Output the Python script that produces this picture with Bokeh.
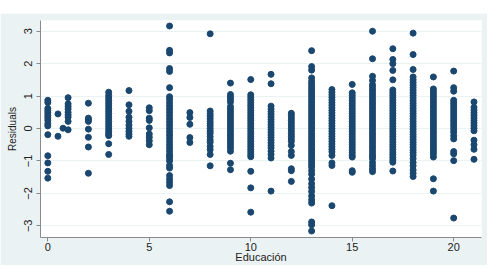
import numpy as np
from bokeh.plotting import figure
from bokeh.models import Range1d, FixedTicker, Spacer
from bokeh.layouts import column
from bokeh.embed import file_html
from bokeh.resources import INLINE

# Years of schooling at which residuals are observed
educ_levels = [0, 0.5, 0.75, 1, 2, 3, 4, 5, 6, 7, 8, 9, 10, 11, 12, 13, 14,
               15, 16, 17, 18, 19, 20, 21]

# Regression residuals for each schooling level
res_0 = [0.87, 0.8, 0.62, 0.55, 0.48, 0.4, 0.33, 0.25, 0.15, 0.08, -0.19,
         -0.84, -1.06, -1.32, -1.53]
res_05 = [0.45, -0.24]
res_075 = [0.01]
res_1 = [0.95, 0.76, 0.68, 0.6, 0.5, 0.42, 0.35, 0.22, -0.04]
res_2 = [0.78, 0.32, 0.27, 0.22, -0.02, -0.27, -0.57, -1.38]
res_3 = [1.12, 1.02, 0.94, 0.86, 0.78, 0.7, 0.62, 0.54, 0.46, 0.38, 0.3,
         0.22, 0.14, 0.06, -0.02, -0.1, -0.17, -0.22, -0.47, -0.8]
res_4 = [1.17, 0.73, 0.53, 0.35, 0.22, 0.1, 0.0, -0.09, -0.17, -0.24]
res_5 = [0.64, 0.55, 0.32, 0.25, 0.02, -0.17, -0.27, -0.38, -0.5]
res_6 = [3.16, 2.41, 2.33, 1.85, 1.76, 1.26, 0.98, 0.9, 0.8, 0.7, 0.6, 0.5,
         0.4, 0.3, 0.2, 0.1, 0.0, -0.1, -0.2, -0.3, -0.4, -0.5, -0.6, -0.7,
         -0.8, -0.85, -0.92, -1.0, -1.14, -1.22, -1.45, -1.56, -1.66, -1.76,
         -2.26, -2.55]
res_7 = [0.49, 0.34, 0.13, -0.28, -0.43]
res_8 = [2.92, 0.54, 0.45, 0.38, 0.3, 0.22, 0.15, 0.08, 0.0, -0.08, -0.15,
         -0.25, -0.35, -0.42, -0.55, -0.65, -0.8, -1.15]
res_9 = [1.4, 1.05, 0.97, 0.9, 0.82, 0.68, 0.6, 0.52, 0.44, 0.36, 0.28, 0.2,
         0.12, 0.04, -0.04, -0.12, -0.2, -0.28, -0.36, -0.44, -0.52, -0.6,
         -0.7, -1.07, -1.27]
res_10 = [1.51, 1.04, 0.96, 0.88, 0.8, 0.72, 0.64, 0.56, 0.48, 0.4, 0.32,
          0.24, 0.16, 0.08, 0.0, -0.08, -0.16, -0.24, -0.32, -0.4, -0.48,
          -0.56, -0.64, -0.72, -0.8, -0.87, -1.32, -1.83, -2.58]
res_11 = [1.67, 1.38, 0.69, 0.6, 0.52, 0.44, 0.36, 0.28, 0.2, 0.12, 0.04,
          -0.04, -0.12, -0.2, -0.28, -0.36, -0.44, -0.52, -0.6, -0.7, -0.8,
          -0.91, -1.93]
res_12 = [0.47, 0.4, 0.32, 0.24, 0.16, 0.08, 0.0, -0.08, -0.16, -0.24,
          -0.32, -0.4, -0.52, -0.71, -0.83, -1.24, -1.3, -1.63]
res_13 = [2.4, 1.91, 1.8, 1.56, 1.45, 1.37, 1.29, 1.21, 1.13, 1.05, 0.97,
          0.89, 0.81, 0.73, 0.65, 0.57, 0.49, 0.41, 0.33, 0.25, 0.17, 0.09,
          0.01, -0.07, -0.15, -0.23, -0.31, -0.39, -0.47, -0.55, -0.63,
          -0.71, -0.79, -0.87, -0.95, -1.03, -1.11, -1.19, -1.3, -1.41,
          -1.56, -1.7, -1.82, -1.94, -2.08, -2.2, -2.3, -2.88, -2.97, -3.16]
res_14 = [1.2, 1.12, 1.04, 0.96, 0.88, 0.8, 0.72, 0.64, 0.56, 0.48, 0.4,
          0.32, 0.24, 0.16, 0.08, 0.0, -0.08, -0.16, -0.24, -0.32, -0.4,
          -0.48, -0.56, -0.64, -0.72, -0.83, -1.06, -1.14, -2.38]
res_15 = [1.36, 1.1, 1.02, 0.94, 0.86, 0.78, 0.7, 0.62, 0.54, 0.46, 0.38,
          0.3, 0.22, 0.14, 0.06, -0.02, -0.1, -0.18, -0.26, -0.34, -0.42,
          -0.5, -0.58, -0.66, -0.74, -0.82, -0.88, -1.3, -1.35]
res_16 = [3.0, 2.15, 1.61, 1.48, 1.35, 1.27, 1.19, 1.11, 1.03, 0.95, 0.87,
          0.79, 0.71, 0.63, 0.55, 0.47, 0.39, 0.31, 0.23, 0.15, 0.07, -0.01,
          -0.09, -0.17, -0.25, -0.33, -0.41, -0.49, -0.57, -0.65, -0.73,
          -0.81, -0.87, -0.93, -1.05, -1.15, -1.25, -1.33]
res_17 = [2.46, 2.13, 2.0, 1.79, 1.5, 1.19, 1.11, 1.03, 0.95, 0.87, 0.79,
          0.71, 0.63, 0.55, 0.47, 0.39, 0.31, 0.23, 0.15, 0.07, -0.01,
          -0.09, -0.17, -0.25, -0.33, -0.41, -0.49, -0.57, -0.65, -0.73,
          -0.81, -0.89, -0.97, -1.04, -1.31]
res_18 = [2.94, 2.28, 1.82, 1.59, 1.5, 1.42, 1.34, 1.26, 1.18, 1.1, 1.02,
          0.94, 0.86, 0.78, 0.7, 0.62, 0.54, 0.46, 0.38, 0.3, 0.22, 0.14,
          0.06, -0.02, -0.1, -0.18, -0.26, -0.34, -0.42, -0.5, -0.58, -0.66,
          -0.74, -0.82, -0.93, -1.05, -1.15, -1.28, -1.38, -1.48]
res_19 = [1.59, 1.22, 1.14, 1.06, 0.98, 0.9, 0.82, 0.74, 0.66, 0.58, 0.5,
          0.42, 0.34, 0.26, 0.18, 0.1, 0.02, -0.06, -0.14, -0.22, -0.3,
          -0.38, -0.46, -0.54, -0.62, -0.7, -0.78, -0.88, -1.55, -1.93]
res_20 = [1.77, 1.26, 1.15, 0.87, 0.79, 0.71, 0.63, 0.55, 0.47, 0.39, 0.31,
          0.23, 0.15, 0.07, -0.02, -0.11, -0.22, -0.32, -0.71, -0.78, -0.99,
          -2.76]
res_21 = [0.82, 0.65, 0.57, 0.49, 0.41, 0.33, 0.25, 0.17, 0.09, 0.01, -0.07,
          -0.36, -0.5, -0.64, -0.95]

residual_groups = [res_0, res_05, res_075, res_1, res_2, res_3, res_4, res_5,
                   res_6, res_7, res_8, res_9, res_10, res_11, res_12, res_13,
                   res_14, res_15, res_16, res_17, res_18, res_19, res_20,
                   res_21]

x_ticks = [0, 5, 10, 15, 20]
y_ticks = [-3, -2, -1, 0, 1, 2, 3]

xs = np.concatenate([[e] * len(g) for e, g in zip(educ_levels, residual_groups)])
ys = np.concatenate(residual_groups)

PANEL = "#EAF2F3"
INK = "#1A476F"
FONT = "Liberation Sans"

p = figure(width=487, height=252, output_backend="svg", toolbar_location=None,
           x_range=Range1d(-0.36, 21.37), y_range=Range1d(-3.36, 3.33),
           min_border_left=40, min_border_right=6, min_border_top=7,
           min_border_bottom=26)
p.background_fill_color = "white"
p.border_fill_color = PANEL
p.outline_line_color = None

p.scatter(xs, ys, size=6, color=INK, line_color=INK)

p.xgrid.visible = False
p.ygrid.ticker = FixedTicker(ticks=y_ticks)
p.ygrid.grid_line_color = "#EAF2F3"
p.ygrid.grid_line_width = 1

p.xaxis.ticker = FixedTicker(ticks=x_ticks)
p.yaxis.ticker = FixedTicker(ticks=y_ticks)
p.xaxis.axis_label = "Educación"
p.yaxis.axis_label = "Residuals"
p.yaxis.major_label_orientation = "vertical"

for ax in (p.xaxis[0], p.yaxis[0]):
    ax.axis_line_color = "#8A8A8A"
    ax.major_tick_line_color = "#8A8A8A"
    ax.major_tick_in = 0
    ax.major_tick_out = 4
    ax.minor_tick_line_color = None
    ax.major_label_text_font = FONT
    ax.major_label_text_font_size = "11px"
    ax.major_label_text_color = "#222222"
    ax.axis_label_text_font = FONT
    ax.axis_label_text_font_style = "normal"
    ax.axis_label_text_color = "#222222"

p.xaxis.axis_label_text_font_size = "11px"
p.yaxis.axis_label_text_font_size = "10px"
p.xaxis.major_label_standoff = 1
p.xaxis.axis_label_standoff = -3
p.yaxis.major_label_standoff = 4
p.yaxis.axis_label_standoff = 4

layout = column(Spacer(height=13, width=487), p, spacing=0)

open("out.html", "w").write(file_html(layout, INLINE))
